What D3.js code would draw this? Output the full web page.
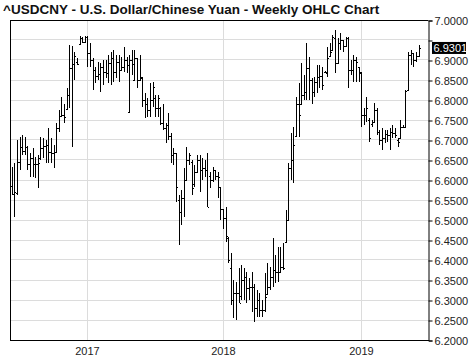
<!DOCTYPE html>
<html>
<head>
<meta charset="utf-8">
<script src="https://cdn.jsdelivr.net/npm/d3@7"></script>
<style>
  body { margin: 0; background: #fff; }
  svg { display: block; }
  text { font-family: "Liberation Sans", Arial, sans-serif; }
</style>
</head>
<body>
<div id="chart"></div>
<script>
// weekly bars, Monday dates, 2016-06-13 .. 2019-06-10
const firstWeek = new Date(2016, 5, 13);
const lastWeek = new Date(2019, 5, 10);

const opens = [
  6.585,6.566,6.567,6.646,6.683,6.672,6.683,6.640,6.655,6.640,
  6.640,6.655,6.680,6.685,6.688,6.671,6.667,6.671,6.729,6.760,
  6.762,6.778,6.812,6.880,6.890,6.895,6.940,6.955,6.945,6.958,
  6.917,6.900,6.875,6.860,6.865,6.883,6.870,6.867,6.892,6.904,
  6.870,6.896,6.875,6.883,6.900,6.771,6.900,6.850,6.905,6.850,
  6.858,6.800,6.790,6.775,6.800,6.805,6.779,6.780,6.742,6.730,
  6.738,6.710,6.662,6.667,6.550,6.520,6.554,6.600,6.650,6.645,
  6.590,6.620,6.650,6.625,6.629,6.625,6.610,6.600,6.625,6.610,
  6.583,6.527,6.504,6.456,6.379,6.300,6.317,6.317,6.310,6.350,
  6.358,6.329,6.333,6.333,6.279,6.300,6.275,6.275,6.315,6.333,
  6.358,6.375,6.371,6.371,6.383,6.445,6.500,6.630,6.650,6.710,
  6.790,6.790,6.812,6.821,6.879,6.850,6.821,6.846,6.858,6.860,
  6.870,6.868,6.910,6.925,6.955,6.893,6.942,6.950,6.935,6.955,
  6.875,6.875,6.900,6.883,6.868,6.762,6.763,6.750,6.740,6.746,
  6.775,6.720,6.700,6.704,6.715,6.712,6.720,6.717,6.700,6.705,
  6.733,6.733,6.825,6.912,6.917,6.900,6.910
];
const highs = [
  6.633,6.642,6.700,6.708,6.712,6.708,6.685,6.667,6.679,6.658,
  6.662,6.708,6.704,6.700,6.729,6.704,6.688,6.742,6.775,6.808,
  6.790,6.829,6.938,6.935,6.921,6.904,6.960,6.958,6.960,6.960,
  6.942,6.904,6.883,6.896,6.892,6.900,6.900,6.912,6.921,6.925,
  6.912,6.912,6.908,6.933,6.908,6.912,6.925,6.925,6.906,6.912,
  6.858,6.817,6.804,6.842,6.846,6.812,6.812,6.783,6.790,6.742,
  6.767,6.717,6.679,6.667,6.562,6.575,6.629,6.683,6.667,6.650,
  6.638,6.662,6.662,6.654,6.650,6.667,6.621,6.633,6.625,6.621,
  6.583,6.527,6.533,6.458,6.417,6.350,6.346,6.379,6.388,6.379,
  6.371,6.354,6.371,6.340,6.325,6.317,6.300,6.367,6.392,6.383,
  6.454,6.412,6.433,6.433,6.442,6.525,6.642,6.717,6.733,6.808,
  6.842,6.892,6.862,6.942,6.908,6.854,6.858,6.888,6.888,6.883,
  6.873,6.933,6.942,6.962,6.975,6.954,6.967,6.950,6.958,6.958,
  6.900,6.912,6.908,6.883,6.871,6.779,6.808,6.754,6.750,6.792,
  6.779,6.725,6.729,6.725,6.725,6.729,6.738,6.729,6.704,6.750,
  6.738,6.825,6.920,6.925,6.917,6.920,6.938
];
const lows = [
  6.562,6.508,6.562,6.625,6.662,6.662,6.625,6.608,6.608,6.604,
  6.579,6.650,6.654,6.642,6.642,6.642,6.629,6.671,6.721,6.758,
  6.742,6.775,6.779,6.683,6.850,6.888,6.938,6.942,6.942,6.883,
  6.883,6.825,6.842,6.850,6.821,6.838,6.854,6.842,6.838,6.846,
  6.854,6.846,6.875,6.871,6.867,6.771,6.862,6.850,6.829,6.850,
  6.783,6.754,6.758,6.758,6.783,6.758,6.758,6.738,6.725,6.692,
  6.700,6.642,6.638,6.546,6.438,6.488,6.508,6.600,6.638,6.562,
  6.583,6.617,6.571,6.600,6.608,6.533,6.579,6.596,6.600,6.554,
  6.500,6.477,6.446,6.392,6.288,6.254,6.250,6.292,6.300,6.300,
  6.292,6.300,6.271,6.246,6.258,6.258,6.258,6.270,6.312,6.325,
  6.333,6.342,6.346,6.371,6.375,6.442,6.500,6.600,6.592,6.708,
  6.708,6.788,6.800,6.800,6.800,6.790,6.808,6.817,6.829,6.825,
  6.868,6.858,6.908,6.925,6.867,6.892,6.925,6.921,6.933,6.829,
  6.862,6.846,6.846,6.846,6.733,6.738,6.746,6.696,6.733,6.742,
  6.712,6.688,6.675,6.692,6.696,6.675,6.704,6.704,6.683,6.704,
  6.729,6.733,6.823,6.888,6.883,6.896,6.908
];
const closes = [
  6.566,6.570,6.646,6.683,6.672,6.683,6.640,6.655,6.640,6.640,
  6.642,6.680,6.685,6.688,6.671,6.667,6.671,6.729,6.760,6.762,
  6.758,6.812,6.879,6.890,6.910,6.890,6.955,6.945,6.958,6.917,
  6.900,6.875,6.860,6.865,6.883,6.870,6.867,6.892,6.904,6.870,
  6.896,6.875,6.883,6.900,6.888,6.900,6.890,6.905,6.850,6.854,
  6.800,6.790,6.775,6.800,6.833,6.779,6.804,6.742,6.730,6.738,
  6.710,6.662,6.667,6.583,6.520,6.554,6.600,6.650,6.662,6.579,
  6.620,6.650,6.625,6.629,6.625,6.533,6.600,6.625,6.610,6.608,
  6.527,6.504,6.460,6.400,6.300,6.317,6.317,6.292,6.350,6.358,
  6.329,6.333,6.333,6.279,6.300,6.275,6.275,6.308,6.333,6.358,
  6.375,6.371,6.371,6.383,6.379,6.500,6.630,6.650,6.688,6.790,
  6.763,6.812,6.821,6.879,6.850,6.821,6.846,6.858,6.860,6.838,
  6.870,6.905,6.920,6.958,6.893,6.942,6.950,6.935,6.955,6.875,
  6.875,6.900,6.896,6.871,6.762,6.763,6.779,6.705,6.746,6.775,
  6.720,6.700,6.704,6.715,6.712,6.720,6.717,6.712,6.696,6.733,
  6.733,6.823,6.912,6.917,6.900,6.910,6.9301
];

const priceTicks = [6.20,6.25,6.30,6.35,6.40,6.45,6.50,6.55,6.60,6.65,6.70,6.75,6.80,6.85,6.90,6.95,7.00];
const yearLabels = ["2017", "2018", "2019"];
const lastPrice = 6.9301;
const title = "^USDCNY - U.S. Dollar/Chinese Yuan - Weekly OHLC Chart";

const W = 474, H = 361;
const plot = {left: 10, right: 428, top: 20, bottom: 340};

const dates = d3.timeMonday.range(firstWeek, d3.timeDay.offset(lastWeek, 1));
const n = Math.min(dates.length, opens.length, highs.length, lows.length, closes.length);
const bars = d3.range(n).map(i => ({
  date: dates[i], open: opens[i], high: highs[i], low: lows[i], close: closes[i]
}));

const svg = d3.select('#chart').append('svg')
  .attr('width', W).attr('height', H);

const x = d3.scalePoint()
  .domain(bars.map(d => +d.date))
  .range([11.8, 418.5]);
const y = d3.scaleLinear().domain([6.2, 7.0]).range([plot.bottom, plot.top]);

const px = d => Math.round(x(+d.date)) + 0.5;
const py = v => Math.round(y(v)) + 0.5;

// title
svg.append('text')
  .attr('x', 3).attr('y', 14)
  .attr('font-size', 13.5).attr('font-weight', 'bold')
  .attr('fill', '#111')
  .text(title);

// horizontal grid
svg.append('g').selectAll('line')
  .data(priceTicks.filter(t => t > 6.2 && t < 7.0))
  .enter().append('line')
  .attr('x1', plot.left).attr('x2', plot.right)
  .attr('y1', d => Math.floor(y(d)) + 0.5).attr('y2', d => Math.floor(y(d)) + 0.5)
  .attr('stroke', '#dcdcdc');

// year grid + labels
const yearStarts = yearLabels.map(lbl => bars.find(d => d.date.getFullYear() === +lbl));
const yg = svg.append('g');
yg.selectAll('line').data(yearStarts).enter().append('line')
  .attr('x1', d => px(d)).attr('x2', d => px(d))
  .attr('y1', plot.top).attr('y2', plot.bottom)
  .attr('stroke', '#dcdcdc');
yg.selectAll('text').data(yearStarts).enter().append('text')
  .attr('x', d => px(d)).attr('y', 354.5)
  .attr('text-anchor', 'middle')
  .attr('font-size', 11).attr('fill', '#222')
  .text(d => d.date.getFullYear());

// OHLC bars
const bg = svg.append('g').attr('stroke', '#000').attr('shape-rendering', 'crispEdges');
const bar = bg.selectAll('g').data(bars).enter().append('g');
bar.append('line')
  .attr('x1', px).attr('x2', px)
  .attr('y1', d => Math.round(y(d.high))).attr('y2', d => Math.max(Math.round(y(d.low)), Math.round(y(d.high)) + 1));
bar.append('line')
  .attr('x1', d => px(d) - 1.5).attr('x2', d => px(d))
  .attr('y1', d => py(d.open)).attr('y2', d => py(d.open));
bar.append('line')
  .attr('x1', d => px(d)).attr('x2', d => px(d) + 1.5)
  .attr('y1', d => py(d.close)).attr('y2', d => py(d.close));

// frame
const frame = svg.append('g').attr('stroke', '#000').attr('fill', 'none');
frame.append('line').attr('x1', plot.left + 0.5).attr('x2', plot.right + 0.5)
  .attr('y1', plot.top + 0.5).attr('y2', plot.top + 0.5);
frame.append('line').attr('x1', plot.left + 0.5).attr('x2', plot.left + 0.5)
  .attr('y1', plot.top).attr('y2', plot.bottom + 1);
frame.append('line').attr('x1', plot.left).attr('x2', plot.right + 1)
  .attr('y1', plot.bottom + 0.5).attr('y2', plot.bottom + 0.5);

// right price axis; the label hidden behind the last-price marker is left out
const fmt = d3.format('.4f');
const hidden = t => Math.abs(y(t) - y(lastPrice)) < 10;
const axis = svg.append('g')
  .attr('transform', `translate(${plot.right + 0.5},0.5)`)
  .call(d3.axisRight(y).tickValues(priceTicks).tickSize(4).tickPadding(2)
    .tickFormat(t => hidden(t) ? '' : fmt(t)));
axis.select('.domain').attr('stroke', '#000');
axis.selectAll('.tick line').attr('stroke', '#000');
axis.selectAll('.tick text')
  .attr('font-family', '"Liberation Sans", Arial, sans-serif')
  .attr('font-size', 11).attr('fill', '#222');

// last price marker
const lp = svg.append('g').attr('transform', `translate(432,${y(lastPrice)})`);
lp.append('rect').attr('x', 0).attr('y', -6).attr('width', 34).attr('height', 12).attr('fill', '#000');
lp.append('text').attr('x', 1.5).attr('y', 4)
  .attr('font-size', 11).attr('fill', '#fff')
  .text(fmt(lastPrice));
</script>
</body>
</html>
